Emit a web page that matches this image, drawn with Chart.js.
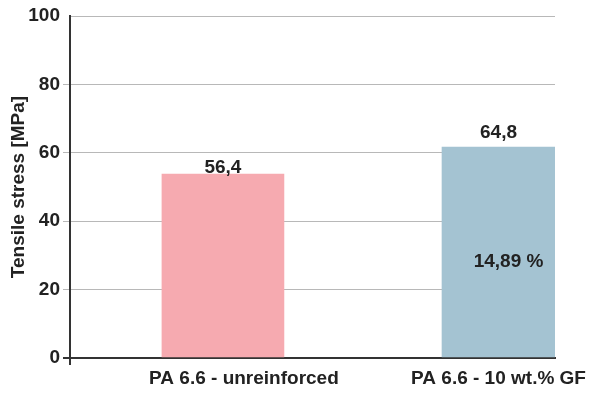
<!DOCTYPE html>
<html>
<head>
<meta charset="utf-8">
<script src="https://cdn.jsdelivr.net/npm/chart.js@4"></script>
<style>
  body { margin: 0; background: #fff; }
</style>
</head>
<body>
<canvas id="chart" width="589" height="394"></canvas>
<script>
const categories = ['PA 6.6 - unreinforced', 'PA 6.6 - 10 wt.% GF'];
const stress = [53.8, 61.7];
const valueLabels = ['56,4', '64,8'];
const increaseLabel = '14,89 %';
const yTicks = [0, 20, 40, 60, 80, 100];

const barColors = ['#f6aab0', '#a4c3d2'];
const barWidths = [122, 113];
const labelGaps = [1, 9];
const catShift = [21, 0];
const FONT = '"Liberation Sans", Arial, sans-serif';
const TEXT = '#222';

const labelsPlugin = {
  id: 'labels',
  afterDatasetsDraw(chart) {
    const ctx = chart.ctx;
    const area = chart.chartArea;
    ctx.save();
    ctx.fillStyle = TEXT;
    ctx.font = 'bold 19px ' + FONT;
    ctx.textAlign = 'center';
    chart.data.datasets.forEach((ds, i) => {
      const bar = chart.getDatasetMeta(i).data[0];
      ctx.textBaseline = 'alphabetic';
      ctx.fillText(valueLabels[i], bar.x, bar.y - labelGaps[i]);
      ctx.textBaseline = 'middle';
      ctx.fillText(categories[i], bar.x + catShift[i], area.bottom + 21);
    });
    const blue = chart.getDatasetMeta(1).data[0];
    ctx.textBaseline = 'middle';
    ctx.fillText(increaseLabel, blue.x + 10, chart.scales.y.getPixelForValue(28));
    // axis stub below zero
    ctx.strokeStyle = '#333';
    ctx.lineWidth = 2;
    ctx.beginPath();
    ctx.moveTo(area.left, area.bottom);
    ctx.lineTo(area.left, area.bottom + 7);
    ctx.stroke();
    ctx.restore();
  }
};

new Chart(document.getElementById('chart'), {
  type: 'bar',
  data: {
    datasets: categories.map((c, i) => ({
      label: c,
      data: [{ x: i + 1, y: stress[i] }],
      backgroundColor: barColors[i],
      barThickness: barWidths[i],
      grouped: false
    }))
  },
  options: {
    responsive: false,
    animation: false,
    layout: { padding: { top: 16, right: 34, left: 0, bottom: 0 } },
    plugins: { legend: { display: false }, tooltip: { enabled: false } },
    scales: {
      x: {
        type: 'linear',
        offset: false,
        min: 0.445,
        max: 2.205,
        grid: { display: false, offset: false },
        ticks: { display: false },
        border: { color: '#333', width: 2 },
        afterFit(scale) { scale.height = 36; }
      },
      y: {
        min: 0,
        max: 100,
        afterBuildTicks(scale) { scale.ticks = yTicks.map(v => ({ value: v })); },
        ticks: {
          color: TEXT,
          padding: 3,
          font: { family: FONT, size: 19, weight: 'bold' }
        },
        grid: {
          color: c => c.tick && c.tick.value === 0 ? '#333' : '#b8b8b8',
          lineWidth: c => c.tick && c.tick.value === 0 ? 2 : 1,
          tickColor: c => {
            if (!c.tick) return '#b8b8b8';
            if (c.tick.value === 100) return 'rgba(0,0,0,0)';
            return c.tick.value === 0 ? '#333' : '#b8b8b8';
          },
          tickLength: 7
        },
        border: { color: '#333', width: 2 },
        title: {
          display: true,
          text: 'Tensile stress [MPa]',
          color: TEXT,
          padding: { top: 7, bottom: 0 },
          font: { family: FONT, size: 19, weight: 'bold' }
        },
        afterFit(scale) { scale.width = 70; }
      }
    }
  },
  plugins: [labelsPlugin]
});
</script>
</body>
</html>
